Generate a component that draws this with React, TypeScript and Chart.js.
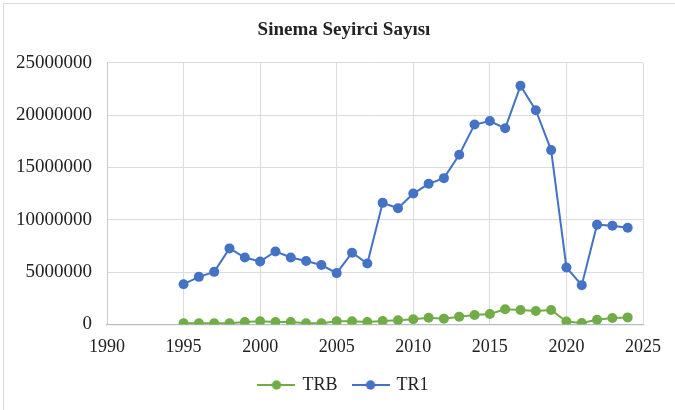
import React, { useEffect, useRef } from "react";
import { Chart, registerables } from "chart.js";

Chart.register(...registerables);

const titleText = "Sinema Seyirci Sayısı";
const years = [
  1995, 1996, 1997, 1998, 1999, 2000, 2001, 2002, 2003, 2004,
  2005, 2006, 2007, 2008, 2009, 2010, 2011, 2012, 2013, 2014,
  2015, 2016, 2017, 2018, 2019, 2020, 2021, 2022, 2023, 2024,
];
const trbValues = [
  120000, 120000, 120000, 120000, 240000, 300000, 240000, 240000, 120000, 120000,
  300000, 300000, 240000, 330000, 400000, 500000, 650000, 560000, 750000, 910000,
  1000000, 1450000, 1390000, 1290000, 1390000, 290000, 150000, 460000, 620000, 680000,
];
const tr1Values = [
  3850000, 4550000, 5030000, 7270000, 6400000, 6020000, 6980000, 6400000, 6060000, 5680000,
  4910000, 6860000, 5830000, 11620000, 11100000, 12510000, 13440000, 13980000, 16220000, 19100000,
  19440000, 18740000, 22800000, 20470000, 16660000, 5450000, 3760000, 9540000, 9440000, 9250000,
];
const seriesNames = ["TRB", "TR1"];
const seriesColors = ["#70AD47", "#4472C4"];
const xMin = 1990;
const xMax = 2025;
const xStep = 5;
const yMin = 0;
const yMax = 25000000;
const yStep = 5000000;

const FONT = "'Liberation Serif', 'Times New Roman', serif";

function legendMarker(color: string): HTMLCanvasElement {
  const c = document.createElement("canvas");
  c.width = 38;
  c.height = 12;
  const ctx = c.getContext("2d")!;
  ctx.strokeStyle = color;
  ctx.lineWidth = 2;
  ctx.beginPath();
  ctx.moveTo(0, 6);
  ctx.lineTo(38, 6);
  ctx.stroke();
  ctx.fillStyle = color;
  ctx.beginPath();
  ctx.arc(19, 6, 4.7, 0, Math.PI * 2);
  ctx.fill();
  return c;
}

export default function App() {
  const ref = useRef<HTMLCanvasElement | null>(null);

  useEffect(() => {
    if (!ref.current) return;
    const markers = seriesColors.map((c) => legendMarker(c));
    const seriesData = [trbValues, tr1Values];
    const chart = new Chart(ref.current, {
      type: "line",
      data: {
        datasets: seriesNames.map((name, si) => ({
          label: name,
          data: years.map((yr, i) => ({ x: yr, y: seriesData[si][i] })),
          borderColor: seriesColors[si],
          backgroundColor: seriesColors[si],
          pointBackgroundColor: seriesColors[si],
          pointBorderColor: seriesColors[si],
          pointRadius: 5,
          pointBorderWidth: 0,
          borderWidth: 2,
          tension: 0,
          fill: false,
          yAxisID: "y",
        })),
      },
      options: {
        responsive: false,
        animation: false,
        layout: { padding: { left: 13, right: 0, top: 0, bottom: 6 } },
        plugins: {
          tooltip: { enabled: false },
          title: {
            display: true,
            text: titleText,
            color: "#222",
            font: { family: FONT, size: 19, weight: "bold" },
            padding: { top: 19, bottom: 21 },
          },
          legend: {
            position: "bottom",
            labels: {
              usePointStyle: true,
              pointStyleWidth: 34,
              color: "#222",
              font: { family: FONT, size: 18 },
              padding: 16,
              generateLabels: (ch: any) => {
                const items = Chart.defaults.plugins.legend.labels.generateLabels(ch);
                return items.map((it: any, i: number) => ({
                  ...it,
                  pointStyle: markers[i],
                }));
              },
            },
          },
        },
        scales: {
          x: {
            type: "linear",
            min: xMin,
            max: xMax,
            ticks: {
              stepSize: xStep,
              color: "#222",
              font: { family: FONT, size: 18 },
              padding: 11.5,
              callback: (v: any) => String(v),
            },
            grid: { color: "#d9dce4", drawTicks: false, lineWidth: 1 },
            border: { color: "#b4bdcc", width: 1.3 },
            afterFit: (s: any) => {
              s.height = 35.5;
            },
          },
          y: {
            type: "linear",
            position: "left",
            min: yMin,
            max: yMax,
            ticks: {
              stepSize: yStep,
              color: "#222",
              font: { family: FONT, size: 19 },
              padding: 15,
              callback: (v: any) => String(v),
            },
            grid: { color: "#d9dce4", drawTicks: false, lineWidth: 1 },
            border: { color: "#c3cad8", width: 1 },
            afterFit: (s: any) => {
              s.width = 94;
            },
          },
          yRightSpace: {
            type: "linear",
            position: "right",
            display: true,
            min: yMin,
            max: yMax,
            ticks: { display: false },
            grid: { display: false, drawTicks: false },
            border: { display: false },
            afterFit: (s: any) => {
              s.width = 32;
            },
          },
        },
      },
    });
    return () => chart.destroy();
  }, []);

  return (
    <div style={{ position: "absolute", left: 0, top: 0, width: 675, height: 410, background: "#fff" }}>
      <div
        style={{
          position: "absolute",
          left: 3,
          top: 3,
          width: 672,
          height: 407,
          borderLeft: "1px solid #d9d9d9",
          borderTop: "1px solid #d9d9d9",
          boxSizing: "border-box",
        }}
      />
      <canvas ref={ref} width={675} height={410} style={{ position: "absolute", left: 0, top: 0 }} />
    </div>
  );
}
